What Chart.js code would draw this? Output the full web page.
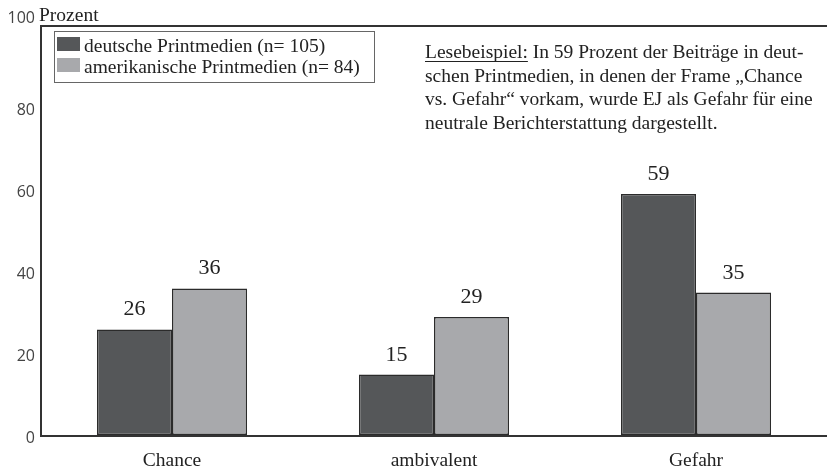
<!DOCTYPE html>
<html>
<head>
<meta charset="utf-8">
<script src="https://cdn.jsdelivr.net/npm/chart.js@4.4.1/dist/chart.umd.min.js"></script>
<style>
  html, body { margin: 0; padding: 0; background: #fff; }
  #wrap { width: 827px; height: 470px; }
</style>
</head>
<body>
<div id="wrap"><canvas id="frameChart"></canvas></div>
<script>
const categories = ["Chance", "ambivalent", "Gefahr"]
const deutsch = [26, 15, 59]
const amerikanisch = [36, 29, 35]
const yTicks = [0, 20, 40, 60, 80, 100]
const seriesNames = ["deutsche Printmedien (n= 105)", "amerikanische Printmedien (n= 84)"]
const noteLines = [
    "In 59 Prozent der Beiträge in deut-",
    "schen Printmedien, in denen der Frame \u201EChance",
    "vs. Gefahr\u201C vorkam, wurde EJ als Gefahr für eine",
    "neutrale Berichterstattung dargestellt."
]

const serif = "'Liberation Serif', 'Times New Roman', serif"
const ink = "#222"
const textSize = 19.5

// value labels over the bars
const valueLabels = {
    id: "valueLabels",
    afterDatasetsDraw(chart) {
        const c = chart.ctx
        c.save()
        c.font = "22px " + serif
        c.fillStyle = ink
        c.textAlign = "center"
        c.textBaseline = "alphabetic"
        chart.data.datasets.forEach((ds, i) => {
            chart.getDatasetMeta(i).data.forEach((bar, j) => {
                c.fillText(ds.data[j], bar.x, bar.y - 14)
            })
        })
        c.restore()
    }
}

// boxed legend, axis title and reading example
const extras = {
    id: "extras",
    afterDraw(chart) {
        const c = chart.ctx
        const area = chart.chartArea
        c.save()
        c.fillStyle = ink
        c.font = textSize + "px " + serif
        c.textBaseline = "alphabetic"
        c.fillText("Prozent", area.left - 2, 21)

        // legend box
        const bx = area.left + 13, by = area.top + 5
        c.strokeStyle = "#666"
        c.lineWidth = 1
        c.strokeRect(bx + 0.5, by + 0.5, 320, 51)
        chart.data.datasets.forEach((ds, i) => {
            const y = by + 6 + i * 21
            c.fillStyle = ds.backgroundColor
            c.fillRect(bx + 3, y, 23, 14)
            c.fillStyle = ink
            c.fillText(ds.label, bx + 30, y + 15)
        })

        // reading example
        const nx = 425
        const lead = "Lesebeispiel:"
        const w = c.measureText(lead).width
        c.fillText(lead, nx, 58)
        c.fillRect(nx, 61, w, 1)
        c.fillText(" " + noteLines[0], nx + w, 58)
        for (let k = 1; k < noteLines.length; k++) {
            c.fillText(noteLines[k], nx, 58 + k * 23.5)
        }
        c.restore()
    }
}

const ctx = document.getElementById("frameChart")

let data = {
    labels: categories,
    datasets: [{
        label: seriesNames[0],
        data: deutsch,
        backgroundColor: "#555759",
        borderColor: "#2b2b2b",
        borderWidth: 1.5,
        borderSkipped: false,
        categoryPercentage: 0.573,
        barPercentage: 1
    }, {
        label: seriesNames[1],
        data: amerikanisch,
        backgroundColor: "#a8a9ac",
        borderColor: "#2b2b2b",
        borderWidth: 1.5,
        borderSkipped: false,
        categoryPercentage: 0.573,
        barPercentage: 1
    }]
}

let config = {
    type: "bar",
    data: data,
    options: {
        responsive: true,
        maintainAspectRatio: false,
        animation: false,
        layout: { padding: { top: 26, right: 0, left: 0, bottom: 0 } },
        plugins: {
            legend: { display: false },
            tooltip: { enabled: false }
        },
        scales: {
            x: {
                grid: { display: false, drawTicks: false },
                border: { display: true, color: "#333", width: 2 },
                ticks: {
                    padding: 13,
                    color: ink,
                    font: { family: serif, size: textSize }
                },
                afterFit(scale) { scale.height = 34 }
            },
            y: {
                min: 0,
                max: 100,
                afterBuildTicks(scale) {
                    scale.ticks = yTicks.map(v => ({ value: v }))
                },
                grid: {
                    drawTicks: false,
                    lineWidth: 2,
                    color: c => c.tick && c.tick.value === 100 ? "#333" : "rgba(0,0,0,0)"
                },
                border: { display: true, color: "#333", width: 2 },
                ticks: {
                    padding: 6,
                    labelOffset: 2,
                    color: "#444",
                    font: { family: "'Open Sans', sans-serif", size: 16 },
                    // the top label sits above the frame line
                    callback: v => v === 100 ? ["100", ""] : String(v)
                },
                afterFit(scale) { scale.width = 41 }
            }
        }
    },
    plugins: [valueLabels, extras]
}

let myChart = new Chart(ctx, config)
</script>
</body>
</html>
